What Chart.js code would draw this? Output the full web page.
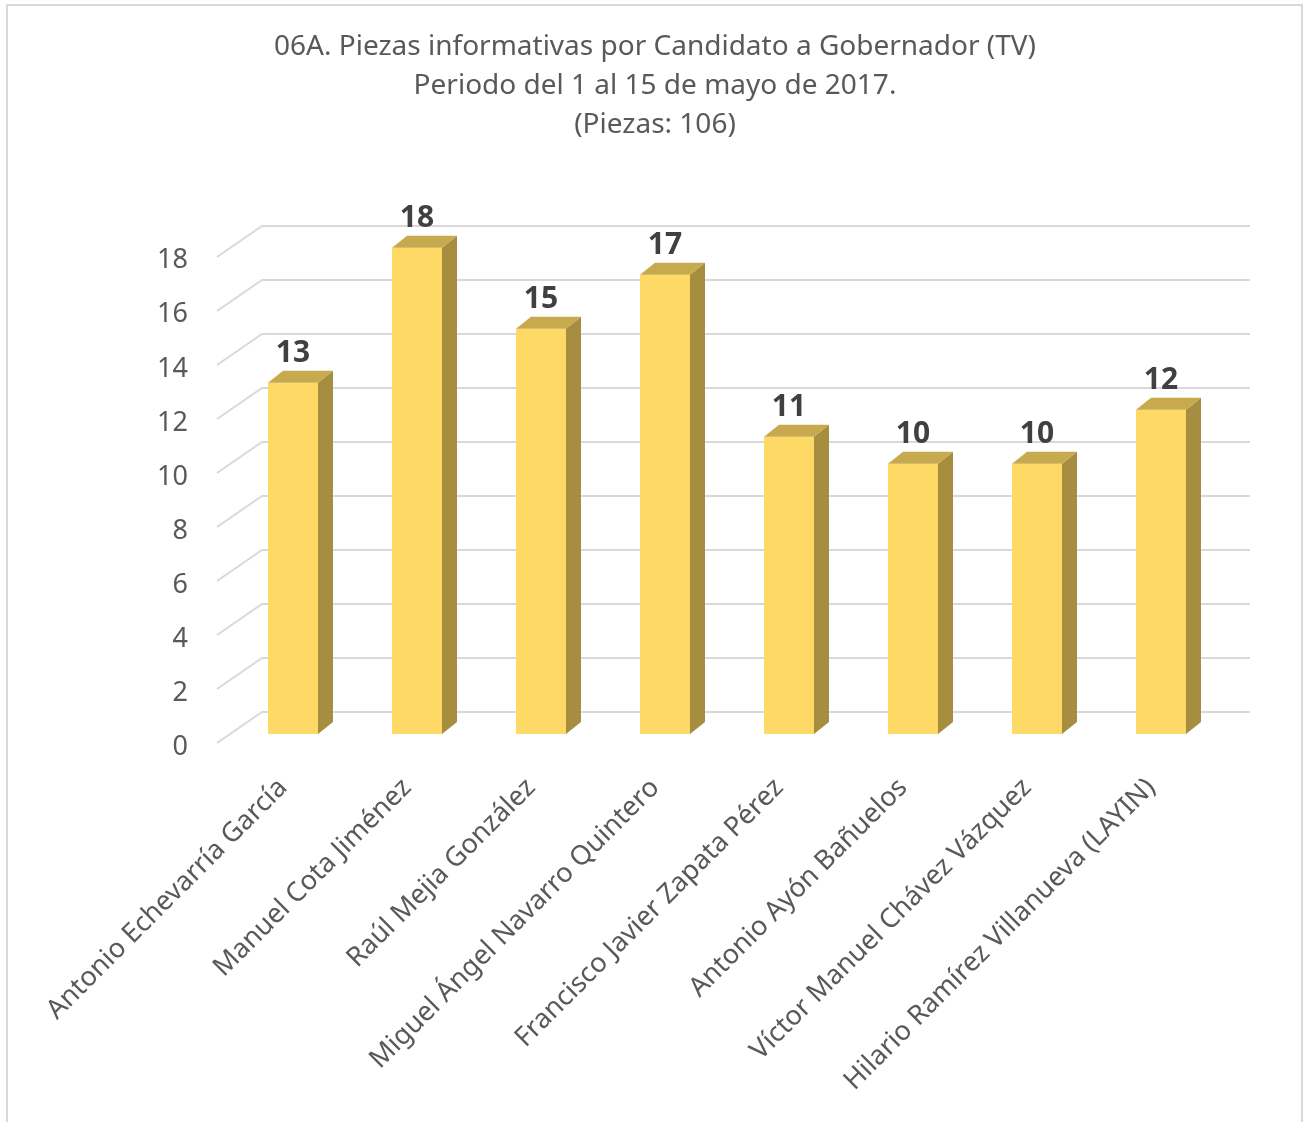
<!DOCTYPE html>
<html>
<head>
<meta charset="utf-8">
<script src="https://cdn.jsdelivr.net/npm/chart.js@4/dist/chart.umd.min.js"></script>
<style>
  html, body { margin: 0; padding: 0; background: #fff; }
  #wrap { position: relative; width: 1304px; height: 1122px; }
</style>
</head>
<body>
<div id="wrap"><canvas id="chart" width="1304" height="1122"></canvas></div>
<script>
// Piezas informativas por candidato (TV), 1-15 mayo 2017
const titleLines = [
  '06A. Piezas informativas por Candidato a Gobernador (TV)',
  'Periodo del 1 al 15 de mayo de 2017.',
  '(Piezas: 106)',
];
const candidates = [
  'Antonio Echevarría García',
  'Manuel Cota Jiménez',
  'Raúl Mejia González',
  'Miguel Ángel Navarro Quintero',
  'Francisco Javier Zapata Pérez',
  'Antonio Ayón Bañuelos',
  'Víctor Manuel Chávez Vázquez',
  'Hilario Ramírez Villanueva (LAYIN)',
];
const pieces = [13, 18, 15, 17, 11, 10, 10, 12];
const yTicks = [0, 2, 4, 6, 8, 10, 12, 14, 16, 18];

const FONT = '"Noto Sans", "Open Sans", sans-serif';
const TEXT = '#595959';
const GRID = '#D9D9D9';
const FRONT = '#FFD966';
const TOP = '#C8AA4E';
const SIDE = '#A68D40';

// 3d offsets (pixels)
const DEPTH_X = 15, DEPTH_Y = 12;

// frame + back wall gridlines with left floor diagonals
const wallGrid = {
  id: 'wallGrid',
  beforeDraw(chart) {
    const ctx = chart.ctx;
    ctx.save();
    ctx.strokeStyle = GRID;
    ctx.lineWidth = 2;
    ctx.beginPath();
    ctx.moveTo(7, 1122);
    ctx.lineTo(7, 5);
    ctx.lineTo(1302, 5);
    ctx.lineTo(1302, 1122);
    ctx.stroke();
    ctx.restore();
  },
  beforeDatasetsDraw(chart) {
    const ctx = chart.ctx;
    const area = chart.chartArea;
    const y = chart.scales.y;
    ctx.save();
    ctx.strokeStyle = GRID;
    ctx.lineWidth = 2;
    yTicks.forEach(v => {
      const yb = Math.round(y.getPixelForValue(v)) - 22;
      ctx.beginPath();
      ctx.moveTo(area.left - 14, yb + 31);
      ctx.lineTo(area.left + 31, yb);
      ctx.lineTo(area.right + 27, yb);
      ctx.stroke();
    });
    ctx.restore();
  },
};

// side / top faces and value labels
const bar3d = {
  id: 'bar3d',
  afterDatasetsDraw(chart) {
    const ctx = chart.ctx;
    const meta = chart.getDatasetMeta(0);
    ctx.save();
    meta.data.forEach((bar, i) => {
      const x1 = bar.x - bar.width / 2;
      const x2 = bar.x + bar.width / 2;
      const top = bar.y;
      const base = bar.base;

      ctx.fillStyle = SIDE;
      ctx.beginPath();
      ctx.moveTo(x2, top);
      ctx.lineTo(x2 + DEPTH_X, top - DEPTH_Y);
      ctx.lineTo(x2 + DEPTH_X, base - DEPTH_Y);
      ctx.lineTo(x2, base);
      ctx.closePath();
      ctx.fill();

      ctx.fillStyle = TOP;
      ctx.beginPath();
      ctx.moveTo(x1, top);
      ctx.lineTo(x1 + DEPTH_X, top - DEPTH_Y);
      ctx.lineTo(x2 + DEPTH_X, top - DEPTH_Y);
      ctx.lineTo(x2, top);
      ctx.closePath();
      ctx.fill();

      ctx.fillStyle = '#404040';
      ctx.font = 'bold 30px ' + FONT;
      ctx.textAlign = 'center';
      ctx.textBaseline = 'alphabetic';
      ctx.fillText(String(pieces[i]), bar.x, top - DEPTH_Y - 9);
    });
    ctx.restore();
  },
};

function build() {
  new Chart(document.getElementById('chart'), {
    type: 'bar',
    data: {
      labels: candidates,
      datasets: [{
        data: pieces,
        backgroundColor: FRONT,
        borderWidth: 0,
        categoryPercentage: 1,
        barPercentage: 0.403,
      }],
    },
    options: {
      responsive: false,
      animation: false,
      layout: { padding: { left: 87, right: 81, top: 0, bottom: 0 } },
      plugins: {
        legend: { display: false },
        tooltip: { enabled: false },
        title: {
          display: true,
          text: titleLines,
          color: TEXT,
          font: { family: FONT, size: 28, weight: 'normal', lineHeight: 1.39 },
          padding: { top: 28, bottom: 103 },
        },
      },
      scales: {
        x: {
          grid: { display: false },
          border: { display: false },
          ticks: {
            color: TEXT,
            font: { family: FONT, size: 27 },
            minRotation: 45,
            maxRotation: 45,
            autoSkip: false,
            padding: 30,
            labelOffset: -10,
          },
          afterFit(scale) { scale.height = 388; },
        },
        y: {
          min: 0,
          max: 18,
          grid: { display: false, drawTicks: false },
          border: { display: false },
          ticks: {
            stepSize: 2,
            color: TEXT,
            font: { family: FONT, size: 27 },
            padding: 43,
            labelOffset: 13,
          },
          afterFit(scale) { scale.width = 144; },
        },
      },
    },
    plugins: [wallGrid, bar3d],
  });
}

Promise.all([
  document.fonts.load('24px "Noto Sans"'),
  document.fonts.load('bold 30px "Noto Sans"'),
]).catch(() => {}).then(build);
</script>
</body>
</html>
